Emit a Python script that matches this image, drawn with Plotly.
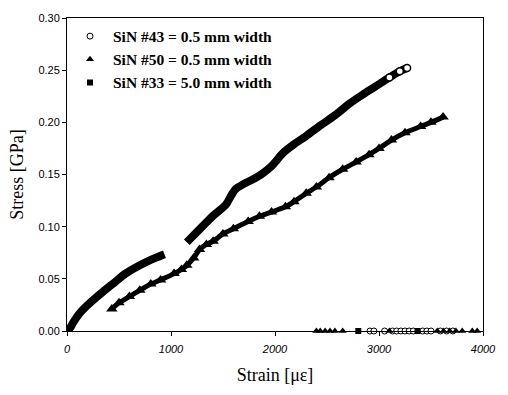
import plotly.graph_objects as go

# SiN #43 (0.5 mm width) - two segments separated by a gap
x43 = [0, 30, 56, 122, 200, 244, 350, 450, 562, 700, 800, 937,
       None,
       1152, 1300, 1400, 1527, 1580, 1621, 1700, 1780, 1880, 1967, 2020, 2061,
       2117, 2183, 2300, 2436, 2580, 2717, 2850, 2960, 3100, 3200, 3270]
y43 = [0.0, 0.003, 0.0075, 0.017, 0.025, 0.029, 0.038, 0.046, 0.055, 0.063, 0.068, 0.0736,
       None,
       0.085, 0.100, 0.110, 0.121, 0.130, 0.136, 0.141, 0.145, 0.151, 0.158, 0.164, 0.169,
       0.174, 0.179, 0.187, 0.197, 0.207, 0.218, 0.227, 0.234, 0.243, 0.249, 0.252]

# SiN #50 (0.5 mm width)
x50 = [431, 500, 600, 700, 806, 900, 1030, 1100, 1152, 1218, 1274, 1340, 1405, 1499,
       1600, 1742, 1850, 1967, 2100, 2183, 2300, 2398, 2520, 2651, 2780, 2904, 3000,
       3120, 3250, 3400, 3500, 3616]
y50 = [0.021, 0.027, 0.033, 0.039, 0.045, 0.049, 0.055, 0.059, 0.063, 0.070, 0.078, 0.083,
       0.086, 0.093, 0.098, 0.105, 0.110, 0.114, 0.119, 0.124, 0.132, 0.138, 0.147, 0.155,
       0.162, 0.169, 0.175, 0.183, 0.190, 0.196, 0.200, 0.205]

# Points lying on the zero-stress baseline
x43_zero = [2913, 2951, 3054, 3130, 3170, 3210, 3250, 3290, 3330, 3420, 3460, 3500, 3590, 3650, 3710]
x50_zero = [2398, 2435, 2482, 2529, 2576, 2651, 3100, 3560, 3620, 3680, 3740, 3800, 3897, 3944]
x33_zero = [2801, 3370]

legend_names = ["SiN #43 = 0.5 mm width", "SiN #50 = 0.5 mm width",
                "SiN #33 = 5.0 mm width"]

x_ticks = [0, 1000, 2000, 3000, 4000]
y_ticks = [0.00, 0.05, 0.10, 0.15, 0.20, 0.25, 0.30]

fig = go.Figure()

# Dense #43 band
fig.add_trace(go.Scatter(x=x43, y=y43, mode="lines", showlegend=False,
                         line=dict(color="black", width=8, shape="spline", smoothing=0.8),
                         cliponaxis=False))
fig.add_trace(go.Scatter(x=x43[-3:], y=y43[-3:], mode="markers", showlegend=False,
                         marker=dict(symbol="circle", size=7, color="white",
                                     line=dict(color="black", width=1.5))))
# Dense #50 band
fig.add_trace(go.Scatter(x=x50, y=y50, mode="lines+markers", showlegend=False,
                         line=dict(color="black", width=5, shape="spline", smoothing=0.6),
                         marker=dict(symbol="triangle-up", size=10, color="black")))

# Baseline points
fig.add_trace(go.Scatter(x=x43_zero, y=[0] * len(x43_zero), mode="markers", showlegend=False,
                         cliponaxis=False,
                         marker=dict(symbol="circle", size=6, color="white",
                                     line=dict(color="black", width=1))))
fig.add_trace(go.Scatter(x=x50_zero, y=[0] * len(x50_zero), mode="markers", showlegend=False,
                         cliponaxis=False,
                         marker=dict(symbol="triangle-up", size=7, color="black")))
fig.add_trace(go.Scatter(x=x33_zero, y=[0] * len(x33_zero), mode="markers", showlegend=False,
                         cliponaxis=False,
                         marker=dict(symbol="square", size=6, color="black")))

# Legend entries
fig.add_trace(go.Scatter(x=[None], y=[None], mode="markers", name=legend_names[0],
                         marker=dict(symbol="circle", size=6, color="white",
                                     line=dict(color="black", width=1))))
fig.add_trace(go.Scatter(x=[None], y=[None], mode="markers", name=legend_names[1],
                         marker=dict(symbol="triangle-up", size=7, color="black")))
fig.add_trace(go.Scatter(x=[None], y=[None], mode="markers", name=legend_names[2],
                         marker=dict(symbol="square", size=6, color="black")))

fig.update_layout(
    width=508, height=395,
    margin=dict(l=67, r=14, t=13, b=64),
    paper_bgcolor="white", plot_bgcolor="white",
    legend=dict(x=0.0, y=0.995, xanchor="left", yanchor="top",
                bgcolor="rgba(0,0,0,0)", itemwidth=36,
                font=dict(family="Liberation Serif", size=15.5, color="black", weight="bold"),
                tracegroupgap=0),
    xaxis=dict(range=[0, 4000], tickvals=x_ticks, ticktext=[str(v) for v in x_ticks],
               showgrid=False, zeroline=False, showline=True, linecolor="black", linewidth=1,
               mirror=True, ticks="outside", ticklen=4, tickcolor="black",
               ticklabelstandoff=4,
               tickfont=dict(family="Liberation Sans", size=11, color="black", style="italic"),
               title=dict(text="Strain [\u03bc\u03b5]", standoff=14,
                          font=dict(family="Liberation Serif", size=18, color="black"))),
    yaxis=dict(range=[0, 0.30], tickvals=y_ticks, ticktext=["%.2f" % v for v in y_ticks],
               showgrid=False, zeroline=False, showline=True, linecolor="black", linewidth=1,
               mirror=True, ticks="outside", ticklen=4, tickcolor="black",
               tickfont=dict(family="Liberation Sans", size=11, color="black"),
               title=dict(text="Stress [GPa]", standoff=10,
                          font=dict(family="Liberation Serif", size=18, color="black"))),
)

fig.write_html("out.html")
